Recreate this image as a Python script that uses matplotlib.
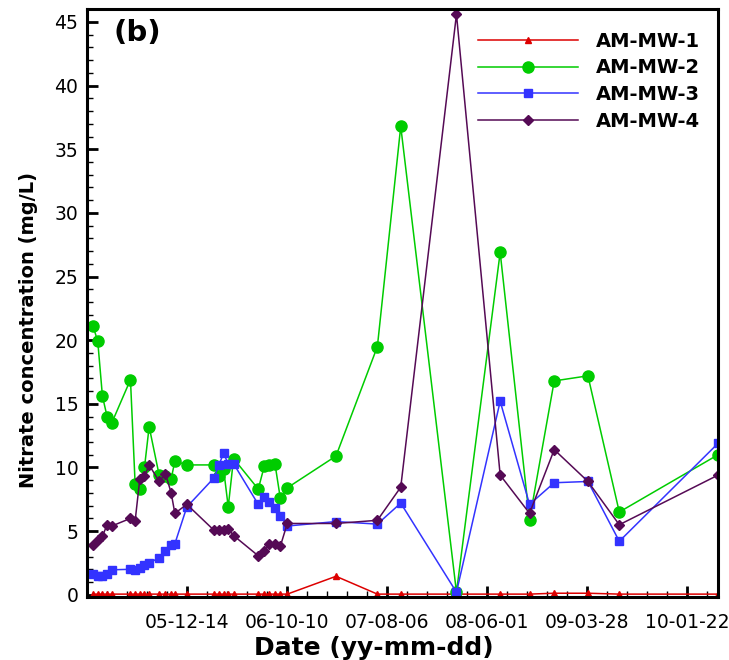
import matplotlib
matplotlib.use("Agg")
from matplotlib import pyplot as plt
import matplotlib.dates as mdates
import pandas as pd

plt.rcParams['font.family'] = ['DejaVu Sans']

# sampling dates
dates = pd.to_datetime([
    '2005-03-08', '2005-03-22', '2005-04-05', '2005-04-19', '2005-05-03',
    '2005-06-28', '2005-07-12', '2005-07-26', '2005-08-09', '2005-08-23',
    '2005-09-22', '2005-10-11', '2005-10-28', '2005-11-08',
    '2005-12-14',
    '2006-03-06', '2006-03-20', '2006-04-03', '2006-04-17', '2006-05-03',
    '2006-07-16', '2006-08-03', '2006-08-18', '2006-09-04', '2006-09-20', '2006-10-11',
    '2007-03-06', '2007-07-08', '2007-09-16', '2008-03-01', '2008-07-10',
    '2008-10-06', '2008-12-19', '2009-03-30', '2009-07-02', '2010-04-24',
])

mw1 = [0.05, 0.05, 0.05, 0.05, 0.05,
       0.05, 0.05, 0.05, 0.05, 0.05,
       0.05, 0.05, 0.05, 0.05,
       0.05,
       0.05, 0.05, 0.05, 0.05, 0.05,
       0.05, 0.05, 0.05, 0.05, 0.05, 0.05,
       1.45, 0.05, 0.05, 0.05, 0.05, 0.05, 0.12, 0.12, 0.05, 0.05]

mw2 = [21.1, 19.9, 15.6, 14.0, 13.5,
       16.9, 8.7, 8.3, 10.0, 13.2,
       9.4, 9.3, 9.1, 10.5,
       10.2,
       10.2, 9.3, 9.9, 6.9, 10.7,
       8.3, 10.1, 10.2, 10.3, 7.6, 8.4,
       10.9, 19.5, 36.8, 0.2, 26.9, 5.9, 16.8, 17.2, 6.5, 11.0]

mw3 = [1.65, 1.5, 1.5, 1.65, 1.96,
       2.0, 1.96, 2.1, 2.3, 2.5,
       2.9, 3.4, 3.9, 4.0,
       6.9,
       9.2, 10.2, 11.1, 10.3, 10.3,
       7.1, 7.7, 7.3, 6.8, 6.2, 5.4,
       5.75, 5.55, 7.2, 0.2, 15.2, 7.1, 8.8, 8.9, 4.2, 11.9]

mw4 = [3.9, 4.3, 4.6, 5.5, 5.4,
       6.0, 5.8, 9.1, 9.3, 10.2,
       8.9, 9.5, 8.0, 6.4,
       7.1,
       5.05, 5.05, 5.1, 5.2, 4.65,
       3.06, 3.4, 4.0, 4.0, 3.8, 5.6,
       5.6, 5.85, 8.45, 45.6, 9.4, 6.4, 11.4, 8.9, 5.5, 9.4]

tick_dates = pd.to_datetime(['2005-12-14', '2006-10-10', '2007-08-06',
                             '2008-06-01', '2009-03-28', '2010-01-22'])

fig = plt.figure(figsize=(7.29, 6.6), dpi=100)
ax = fig.add_axes([0.119, 0.095, 0.866, 0.891])

ax.plot(dates, mw1, color='#dd0000', lw=1.1, marker='^', ms=5, label='AM-MW-1')
ax.plot(dates, mw2, color='#00cc00', lw=1.1, marker='o', ms=8, label='AM-MW-2')
ax.plot(dates, mw3, color='#3333ff', lw=1.1, marker='s', ms=6, label='AM-MW-3')
ax.plot(dates, mw4, color='#550a55', lw=1.1, marker='D', ms=5.5, label='AM-MW-4')

ax.set_xlim(dates[0], dates[-1])
ax.set_ylim(-0.2, 46)

# major ticks every 300 days, minor every 60
minor = pd.date_range(tick_dates[0] - pd.Timedelta(days=300), dates[-1], freq='60D')
ax.set_xticks(tick_dates)
ax.set_xticks(minor, minor=True)
ax.xaxis.set_major_formatter(mdates.DateFormatter('%y-%m-%d'))
ax.set_yticks(range(0, 46, 5))
ax.set_yticks(range(0, 46, 1), minor=True)

ax.tick_params(which='both', direction='in', top=False, right=False)
ax.tick_params(which='major', length=8, width=2)
ax.tick_params(which='minor', length=4.5, width=1)
ax.tick_params(axis='x', labelsize=13.5, pad=11)
ax.tick_params(axis='y', labelsize=13.5, pad=6)
for s in ax.spines.values():
    s.set_linewidth(2.2)

ax.set_xlabel('Date (yy-mm-dd)', fontsize=18, fontweight='bold')
ax.set_ylabel('Nitrate concentration (mg/L)', fontsize=14, fontweight='bold')
ax.xaxis.set_label_coords(0.455, -0.066)
ax.yaxis.set_label_coords(-0.078, 0.454)

ax.text(0.042, 0.984, '(b)', transform=ax.transAxes, fontsize=21, fontweight='bold',
        va='top', ha='left')

leg = ax.legend(loc='upper left', bbox_to_anchor=(0.62, 0.962), frameon=False,
                numpoints=1, handlelength=5.15, handletextpad=0.88, labelspacing=0.4,
                borderpad=0, borderaxespad=0, prop={'weight': 'bold', 'size': 14})

plt.savefig('out.png', dpi=100)
